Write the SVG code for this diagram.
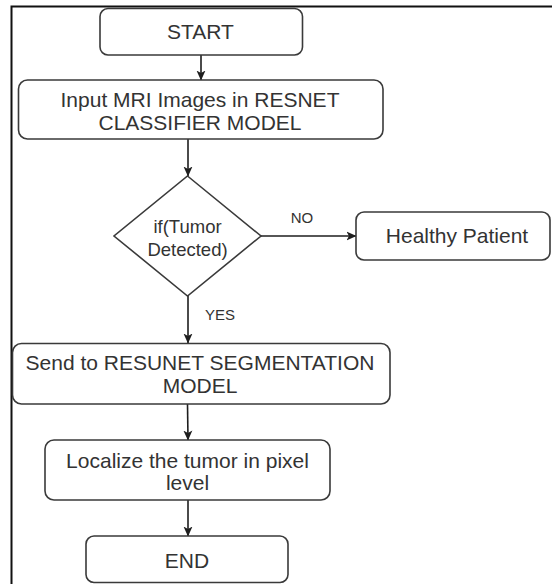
<svg xmlns="http://www.w3.org/2000/svg" width="552" height="584" viewBox="0 0 552 584">
  <style>
    .box { fill: #ffffff; stroke: #3a3a3a; stroke-width: 1.6; }
    .lbl { font-family: "Liberation Sans", Arial, sans-serif; font-size: 21px; fill: #333333; text-anchor: middle; }
    .dlbl { font-family: "Liberation Sans", Arial, sans-serif; font-size: 18.5px; fill: #333333; text-anchor: middle; }
    .elbl { font-family: "Liberation Sans", Arial, sans-serif; font-size: 15px; fill: #333333; text-anchor: middle; }
    .edge { fill: none; stroke: #1e1e1e; stroke-width: 1.6; marker-end: url(#arrow); }
  </style>
  <defs>
    <marker id="arrow" viewBox="0 0 10 10" refX="9.5" refY="5" markerWidth="10" markerHeight="10" markerUnits="userSpaceOnUse" orient="auto">
      <path d="M0,0.5 L10,5 L0,9.5 L2.5,5 z" fill="#1e1e1e"/>
    </marker>
  </defs>

  <rect width="552" height="584" fill="#ffffff"/>
  <!-- outer frame -->
  <path d="M11.5,590 V6.5 H560" fill="none" stroke="#111111" stroke-width="2"/>

  <g id="connectors">
    <line class="edge" x1="201" y1="55" x2="201" y2="80"/>
    <line class="edge" x1="188" y1="139" x2="188" y2="176"/>
    <line class="edge" x1="261" y1="236" x2="356" y2="236"/>
    <line class="edge" x1="188" y1="296" x2="188" y2="343"/>
    <line class="edge" x1="187.5" y1="404" x2="188" y2="440"/>
    <line class="edge" x1="188" y1="500" x2="188" y2="536"/>
    <text class="elbl" x="302" y="223">NO</text>
    <text class="elbl" x="220" y="319.5">YES</text>
  </g>

  <g id="start">
    <rect class="box" x="100" y="8.5" width="202.5" height="46.5" rx="8"/>
    <text class="lbl" x="200.5" y="39">START</text>
  </g>

  <g id="input">
    <rect class="box" x="18.5" y="80" width="364.5" height="59" rx="9"/>
    <text class="lbl" x="200" y="106.5">Input MRI Images in RESNET</text>
    <text class="lbl" x="200" y="129.5">CLASSIFIER MODEL</text>
  </g>

  <g id="decision">
    <polygon class="box" points="187.5,176 261,236 187.5,296 114,236"/>
    <text class="dlbl" x="187.5" y="233">if(Tumor</text>
    <text class="dlbl" x="187.5" y="255.5">Detected)</text>
  </g>

  <g id="healthy">
    <rect class="box" x="356" y="212" width="194" height="48" rx="8"/>
    <text class="lbl" x="457" y="243">Healthy Patient</text>
  </g>

  <g id="segment">
    <rect class="box" x="12.5" y="343.5" width="377.5" height="60.5" rx="9"/>
    <text class="lbl" x="200" y="370">Send to RESUNET SEGMENTATION</text>
    <text class="lbl" x="200" y="392.5">MODEL</text>
  </g>

  <g id="localize">
    <rect class="box" x="45" y="440" width="285" height="60" rx="9"/>
    <text class="lbl" x="187.5" y="467.5">Localize the tumor in pixel</text>
    <text class="lbl" x="187.5" y="489.5">level</text>
  </g>

  <g id="end">
    <rect class="box" x="86" y="536" width="202" height="46.5" rx="8"/>
    <text class="lbl" x="187" y="567.5">END</text>
  </g>
</svg>
